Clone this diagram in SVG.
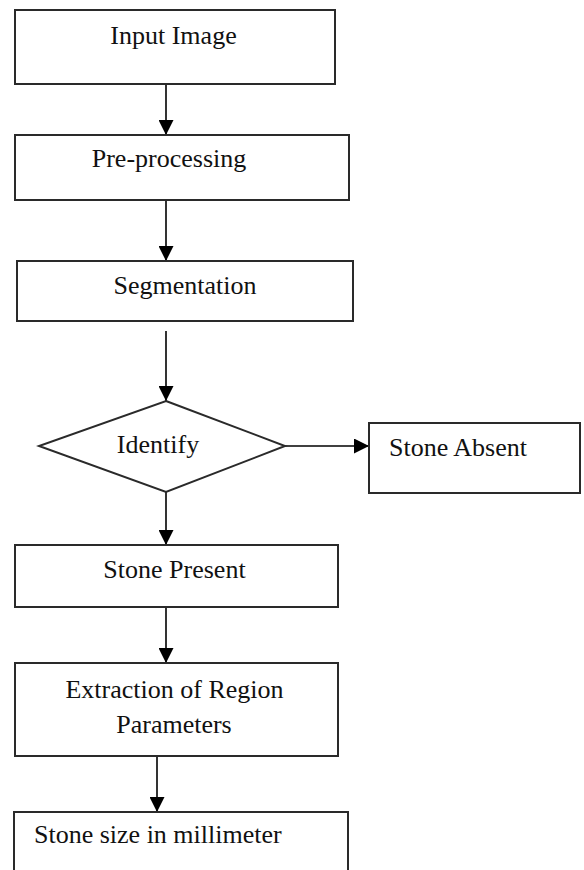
<svg xmlns="http://www.w3.org/2000/svg" width="584" height="870" viewBox="0 0 584 870">
<style>
.box{fill:#fff;stroke:#2a2a2a;stroke-width:2}
.lbl{font-family:"Liberation Serif","Times New Roman",serif;font-size:26px;fill:#111}
.c{text-anchor:middle}
.conn{stroke:#000;stroke-width:1.6;fill:none;marker-end:url(#ah)}
</style>
<defs>
<marker id="ah" markerUnits="userSpaceOnUse" markerWidth="15" markerHeight="15" refX="15" refY="7.5" orient="auto">
<path d="M0,0 L15,7.5 L0,15 z" fill="#000"/>
</marker>
</defs>
<rect width="584" height="870" fill="#fff"/>
<g id="connectors">
<line class="conn" x1="166" y1="84" x2="166" y2="135"/>
<line class="conn" x1="166" y1="200" x2="166" y2="261"/>
<line class="conn" x1="166" y1="331" x2="166" y2="401"/>
<line class="conn" x1="285" y1="446" x2="369" y2="446"/>
<line class="conn" x1="166" y1="492" x2="166" y2="545"/>
<line class="conn" x1="166" y1="607" x2="166" y2="663"/>
<line class="conn" x1="157" y1="756" x2="157" y2="812"/>
</g>
<g id="input-image">
<rect class="box" x="15" y="10" width="320" height="74"/>
<text class="lbl c" x="173.5" y="44">Input Image</text>
</g>
<g id="pre-processing">
<rect class="box" x="15" y="135" width="334" height="65"/>
<text class="lbl c" x="169" y="167">Pre-processing</text>
</g>
<g id="segmentation">
<rect class="box" x="17" y="261" width="336" height="60"/>
<text class="lbl c" x="185" y="294">Segmentation</text>
</g>
<g id="identify">
<polygon class="box" points="166,401 285,446 166,492 39,446"/>
<text class="lbl c" x="158" y="453">Identify</text>
</g>
<g id="stone-absent">
<rect class="box" x="369" y="423" width="211" height="70"/>
<text class="lbl" x="389" y="456">Stone Absent</text>
</g>
<g id="stone-present">
<rect class="box" x="15" y="545" width="323" height="62"/>
<text class="lbl c" x="174.5" y="578">Stone Present</text>
</g>
<g id="extraction">
<rect class="box" x="15" y="663" width="323" height="93"/>
<text class="lbl c" x="174.5" y="698">Extraction of Region</text>
<text class="lbl c" x="174" y="733">Parameters</text>
</g>
<g id="stone-size">
<rect class="box" x="14" y="812" width="334" height="70"/>
<text class="lbl" x="34" y="843">Stone size in millimeter</text>
</g>
</svg>
